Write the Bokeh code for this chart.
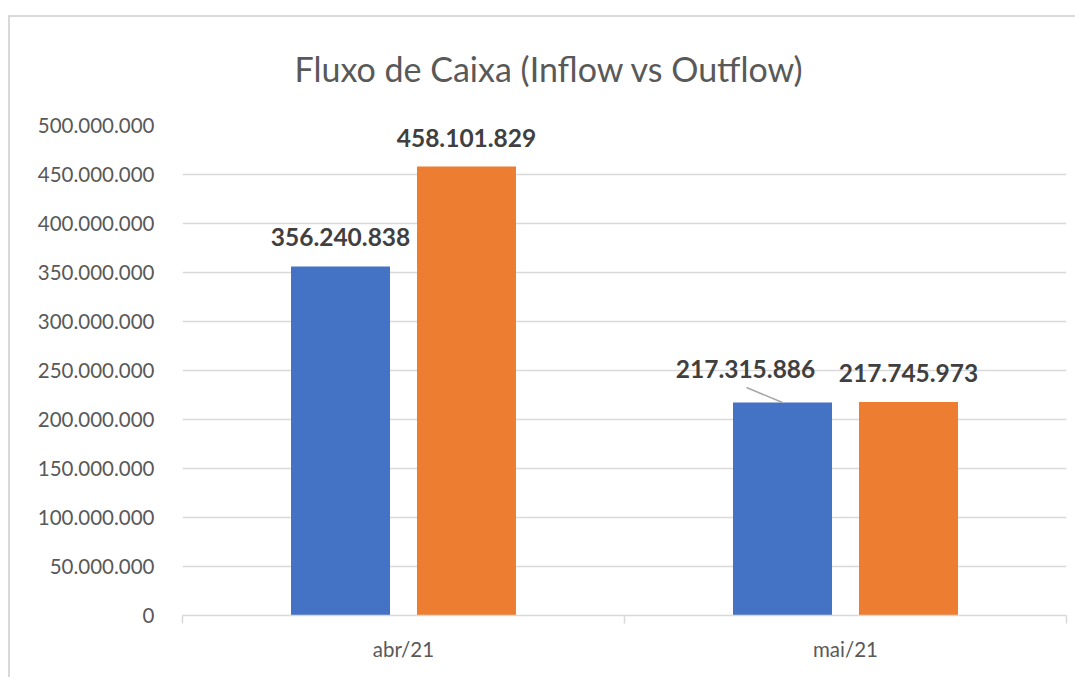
from bokeh.plotting import figure
from bokeh.models import (Range1d, FixedTicker, ColumnDataSource, CDSView, IndexFilter,
                          Title, InlineStyleSheet)
from bokeh.transform import dodge
from bokeh.core.properties import value
from bokeh.embed import file_html
from bokeh.resources import INLINE

# ---- data ----
categories = ["abr/21", "mai/21"]
inflow = [356240838, 217315886]
outflow = [458101829, 217745973]
y_ticks = [0, 50000000, 100000000, 150000000, 200000000, 250000000,
           300000000, 350000000, 400000000, 450000000, 500000000]
y_tick_labels = ["0", "50.000.000", "100.000.000", "150.000.000", "200.000.000",
                 "250.000.000", "300.000.000", "350.000.000", "400.000.000",
                 "450.000.000", "500.000.000"]
title_text = "Fluxo de Caixa (Inflow vs Outflow)"


def fmt(v):
    return f"{v:,}".replace(",", ".")


BLUE = "#4472C4"
ORANGE = "#ED7D31"
GRID = "#d9d9d9"
TXT = "#595959"
LBL = "#404040"
FONT = "Lato"

W, H = 1075, 677
ML, MR, MT, MB = 182, 9, 125, 62
FRAME_W = W - ML - MR
FRAME_H = H - MT - MB
Y_MAX = 500000000
N = len(categories)
px_per_cat = FRAME_W / N
units_per_px = Y_MAX / FRAME_H

p = figure(x_range=Range1d(0, N), y_range=Range1d(0, Y_MAX),
           width=W, height=H, output_backend="svg", toolbar_location=None,
           min_border_left=ML, min_border_right=MR,
           min_border_top=MT, min_border_bottom=MB)
p.outline_line_color = None
p.background_fill_color = "white"
p.border_fill_color = "white"

p.title = Title(text=title_text, align="left", text_font=FONT, text_font_size="34px",
                text_font_style="normal", text_color=TXT, offset=112, standoff=73)

# y axis
ya = p.yaxis[0]
ya.ticker = FixedTicker(ticks=y_ticks)
ya.major_label_overrides = {t: l for t, l in zip(y_ticks, y_tick_labels)}
ya.axis_line_color = None
ya.major_tick_line_color = None
ya.minor_tick_line_color = None
ya.major_tick_out = 0
ya.major_tick_in = 0
ya.major_label_standoff = 28
ya.major_label_text_font = FONT
ya.major_label_text_font_size = "20.5px"
ya.major_label_text_color = TXT

p.ygrid.ticker = FixedTicker(ticks=y_ticks[1:])
p.ygrid.grid_line_color = GRID
p.ygrid.grid_line_width = 1.5
p.xgrid.visible = False

# category axis: labels at centres, tick marks at category boundaries
centers = [i + 0.5 for i in range(N)]
xa = p.xaxis[0]
xa.ticker = FixedTicker(ticks=centers, minor_ticks=list(range(N + 1)))
xa.major_label_overrides = {c: cat for c, cat in zip(centers, categories)}
xa.axis_line_color = GRID
xa.axis_line_width = 1.5
xa.major_tick_line_color = None
xa.major_tick_out = 0
xa.major_tick_in = 0
xa.minor_tick_line_color = GRID
xa.minor_tick_line_width = 1.5
xa.minor_tick_out = 8
xa.minor_tick_in = 0
xa.major_label_standoff = 13
xa.major_label_text_font = FONT
xa.major_label_text_font_size = "20.5px"
xa.major_label_text_color = TXT

src = ColumnDataSource(dict(cat=categories, xc=centers, inflow=inflow, outflow=outflow,
                            inflow_lbl=[fmt(v) for v in inflow],
                            outflow_lbl=[fmt(v) for v in outflow]))

OFF = 0.1425
BW = 0.224
p.vbar(x=dodge("xc", -OFF), top="inflow", width=BW, source=src,
       fill_color=BLUE, line_color=None, name="Inflow")
p.vbar(x=dodge("xc", OFF), top="outflow", width=BW, source=src,
       fill_color=ORANGE, line_color=None, name="Outflow")

lbl_style = dict(text_font=value(FONT), text_font_size="24.5px", text_font_style="bold",
                 text_color=LBL, text_align="center", text_baseline="middle")

# outflow labels
p.text(x=dodge("xc", OFF), y="outflow", text="outflow_lbl", source=src,
       y_offset=-29, **lbl_style)
# inflow label abr/21
p.text(x=dodge("xc", -OFF), y="inflow", text="inflow_lbl", source=src,
       view=CDSView(filter=IndexFilter([0])), y_offset=-29, **lbl_style)
# inflow label mai/21 (moved, with leader line)
shift_x, shift_y = -37, -34
p.text(x=dodge("xc", -OFF), y="inflow", text="inflow_lbl", source=src,
       view=CDSView(filter=IndexFilter([1])), x_offset=shift_x, y_offset=shift_y, **lbl_style)
src.data["leader_y"] = [v + 15 * units_per_px for v in inflow]
p.segment(x0=dodge("xc", -OFF), y0="inflow",
          x1=dodge("xc", -OFF - 36 / px_per_cat), y1="leader_y",
          source=src, view=CDSView(filter=IndexFilter([1])),
          line_color="#a6a6a6", line_width=1.5)

# chart-area border (left and top edges visible)
p.stylesheets = [InlineStyleSheet(css="""
:host { position: relative; }
:host::after {
  content: ""; position: absolute; left: 8px; top: 15px; right: -40px; bottom: -40px;
  border-left: 2px solid #d9d9d9; border-top: 2px solid #d9d9d9;
  pointer-events: none; box-sizing: border-box;
}
""")]

open("out.html", "w").write(file_html(p, INLINE))
